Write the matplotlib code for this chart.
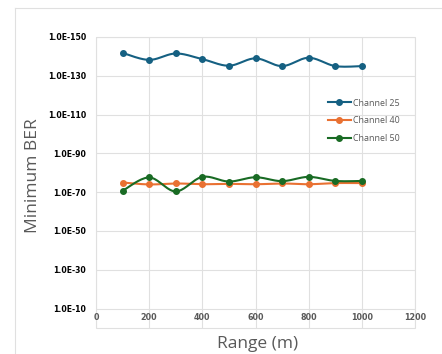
import numpy as np
import matplotlib
matplotlib.use("Agg")
import matplotlib.pyplot as plt
from matplotlib.patches import Rectangle
from matplotlib.lines import Line2D
from matplotlib.ticker import FixedLocator, FuncFormatter, NullLocator

# ---- data ----
ranges = [100, 200, 300, 400, 500, 600, 700, 800, 900, 1000]
ch25_exp = [-141.8, -138.2, -141.5, -138.6, -135.2, -139.0, -135.0, -139.3, -135.0, -135.0]
ch40_exp = [-75.0, -74.0, -74.5, -74.1, -74.3, -74.1, -74.5, -74.1, -74.7, -74.7]
ch50_exp = [-70.7, -77.6, -70.4, -77.9, -75.5, -77.7, -75.7, -77.9, -75.8, -75.8]
series_names = ["Channel 25", "Channel 40", "Channel 50"]
colors = ["#156082", "#E97132", "#196B24"]
ytick_exps = [-150, -130, -110, -90, -70, -50, -30, -10]
xticks = [0, 200, 400, 600, 800, 1000, 1200]

W, H = 442, 354
fig = plt.figure(figsize=(W / 100, H / 100), dpi=100)
ax = fig.add_axes([96 / W, 1 - 328 / H, (415 - 96) / W, (328 - 37) / H])

def smooth(x, y, n=20):
    """Excel-like smooth line (Catmull-Rom Bezier) through the points."""
    x = np.asarray(x, float); y = np.asarray(y, float)
    xs, ys = [], []
    for i in range(len(x) - 1):
        p0 = (x[i - 1], y[i - 1]) if i > 0 else (x[i], y[i])
        p1 = (x[i], y[i]); p2 = (x[i + 1], y[i + 1])
        p3 = (x[i + 2], y[i + 2]) if i + 2 < len(x) else (x[i + 1], y[i + 1])
        c1 = (p1[0] + (p2[0] - p0[0]) / 6, p1[1] + (p2[1] - p0[1]) / 6)
        c2 = (p2[0] - (p3[0] - p1[0]) / 6, p2[1] - (p3[1] - p1[1]) / 6)
        t = np.linspace(0, 1, n)
        bx = (1 - t) ** 3 * p1[0] + 3 * (1 - t) ** 2 * t * c1[0] + 3 * (1 - t) * t ** 2 * c2[0] + t ** 3 * p2[0]
        by = (1 - t) ** 3 * p1[1] + 3 * (1 - t) ** 2 * t * c1[1] + 3 * (1 - t) * t ** 2 * c2[1] + t ** 3 * p2[1]
        xs.extend(bx); ys.extend(by)
    return np.array(xs), np.array(ys)

handles = []
for name, exps, c in zip(series_names, [ch25_exp, ch40_exp, ch50_exp], colors):
    sx, sy = smooth(ranges, exps)
    ax.plot(sx, 10.0 ** sy, color=c, lw=1.5, zorder=3, solid_capstyle="round")
    ax.plot(ranges, 10.0 ** np.array(exps), "o", color=c, ms=4, zorder=4)
    handles.append(Line2D([], [], color=c, lw=1.5, marker="o", ms=4))

ax.set_yscale("log")
ax.set_ylim(1e0, 1e-150)
ax.set_xlim(0, 1200)
ax.yaxis.set_major_locator(FixedLocator([10.0 ** e for e in ytick_exps]))
ax.yaxis.set_minor_locator(NullLocator())
ax.yaxis.set_major_formatter(FuncFormatter(lambda v, p: "1.0E%d" % round(np.log10(v))))
ax.xaxis.set_major_locator(FixedLocator(xticks))
ax.xaxis.set_major_formatter(FuncFormatter(lambda v, p: "%d" % v))

grid_c = "#E0E0E0"
ax.grid(True, color=grid_c, lw=0.8, zorder=0)
for s in ax.spines.values():
    s.set_visible(False)
ax.spines["bottom"].set_position(("data", 1e-10))
ax.add_patch(Rectangle((0, 0), 1, 1, transform=ax.transAxes, fill=False,
                       edgecolor=grid_c, lw=0.8, clip_on=False, zorder=1))
ax.tick_params(axis="both", length=0)
ax.tick_params(axis="y", pad=7, labelsize=5.6, labelcolor="#000000")
ax.tick_params(axis="x", pad=3, labelsize=5.8, labelcolor="#595959")
for lbl in ax.get_yticklabels():
    lbl.set_fontweight("bold")
for lbl in ax.get_xticklabels():
    lbl.set_fontweight("bold")

fig.text(33 / W, 1 - 176 / H, "Minimum BER", rotation=90, ha="center", va="center",
         fontsize=12.5, color="#595959", family="Open Sans")
fig.text(258 / W, 1 - 344 / H, "Range (m)", ha="center", va="center",
         fontsize=12.5, color="#595959", family="Open Sans")

leg = fig.legend(handles, series_names, loc="upper left",
                 bbox_to_anchor=(324 / W, 1 - 95 / H), frameon=False,
                 prop={"family": "Open Sans", "size": 6.4}, labelcolor="#595959",
                 handlelength=2.6, handletextpad=0.25, labelspacing=1.0, borderaxespad=0)

# outer chart border (cropped at right/bottom)
fig.add_artist(Line2D([15 / W, 1], [1 - 8 / H, 1 - 8 / H], color=grid_c, lw=0.8))
fig.add_artist(Line2D([15 / W, 15 / W], [0, 1 - 8 / H], color=grid_c, lw=0.8))

fig.savefig("out.png", dpi=100)
